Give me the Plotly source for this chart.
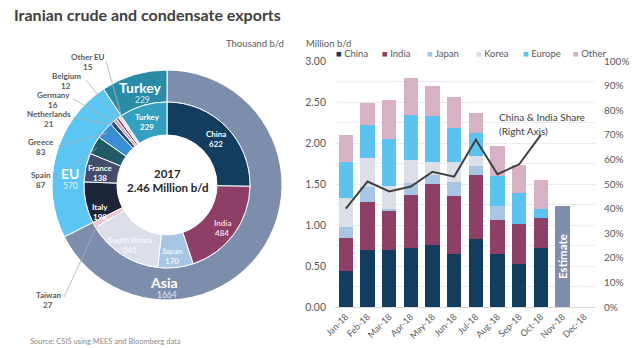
import plotly.graph_objects as go

W, H = 640, 348
FONT = "Lato"

# ---------------- data ----------------
months = ["Jan-18", "Feb-18", "Mar-18", "Apr-18", "May-18", "Jun-18",
          "Jul-18", "Aug-18", "Sep-18", "Oct-18", "Nov-18", "Dec-18"]
china = [0.44, 0.70, 0.70, 0.72, 0.76, 0.65, 0.83, 0.65, 0.52, 0.72, None, None]
india = [0.40, 0.58, 0.48, 0.65, 0.74, 0.70, 0.78, 0.41, 0.49, 0.36, None, None]
japan = [0.14, 0.18, 0.02, 0.14, 0.11, 0.18, 0.11, 0.17, 0.00, 0.00, None, None]
korea = [0.35, 0.36, 0.27, 0.28, 0.16, 0.24, 0.12, 0.00, 0.00, 0.00, None, None]
europe = [0.44, 0.40, 0.58, 0.55, 0.56, 0.41, 0.28, 0.37, 0.38, 0.11, None, None]
other = [0.33, 0.27, 0.47, 0.45, 0.37, 0.38, 0.25, 0.36, 0.34, 0.36, None, None]
estimate_month = ["Nov-18"]
estimate_value = [1.23]
share_months = months[:10]
china_india_share = [0.40, 0.51, 0.47, 0.49, 0.55, 0.53, 0.68, 0.54, 0.58, 0.70]

series_names = ["China", "India", "Japan", "Korea", "Europe", "Other"]
series_values = [china, india, japan, korea, europe, other]
series_colors = ["#123d5e", "#8e3f66", "#a8c5e5", "#dcdfe8", "#5cc3f0", "#d8b1c4"]

inner_labels = ["China", "India", "Japan", "South Korea", "Taiwan", "Italy", "France",
                "Spain", "Greece", "Netherlands", "Germany", "Belgium", "Other EU", "Turkey"]
inner_values = [622, 484, 170, 361, 27, 198, 138, 87, 83, 21, 16, 12, 15, 229]
inner_colors = ["#123d5e", "#8e3f66", "#a8c5e5", "#dcdfe8", "#e9c5d4", "#1c2638", "#444d6b",
                "#1e5b66", "#3a8ed6", "#274a7a", "#c9a3b8", "#7a3a5e", "#dde4ef", "#33a0bf"]
outer_labels = ["Asia", "EU", "Turkey"]
outer_values = [1664, 570, 229]
outer_colors = ["#7d8eac", "#5cc6f3", "#2a8ba6"]


def px(x, y):
    return x / W, 1 - y / H


fig = go.Figure()

# ---------------- donut ----------------
cx, cy, r_out, r_mid, r_hole = 167, 185, 115, 83, 50
fig.add_trace(go.Pie(
    labels=outer_labels, values=outer_values, sort=False, direction="clockwise", rotation=0,
    hole=r_mid / r_out, marker=dict(colors=outer_colors, line=dict(color="white", width=1)),
    textinfo="none", hoverinfo="label+value", showlegend=False,
    domain=dict(x=[(cx - r_out) / W, (cx + r_out) / W],
                y=[1 - (cy + r_out) / H, 1 - (cy - r_out) / H])))
fig.add_trace(go.Pie(
    labels=inner_labels, values=inner_values, sort=False, direction="clockwise", rotation=0,
    hole=r_hole / r_mid, marker=dict(colors=inner_colors, line=dict(color="white", width=1)),
    textinfo="none", hoverinfo="label+value", showlegend=False,
    domain=dict(x=[(cx - r_mid) / W, (cx + r_mid) / W],
                y=[1 - (cy + r_mid) / H, 1 - (cy - r_mid) / H])))

# ---------------- bars ----------------
for name, vals, col in zip(series_names, series_values, series_colors):
    fig.add_trace(go.Bar(x=months, y=vals, name=name, marker=dict(color=col, line=dict(width=0)),
                         showlegend=False))
fig.add_trace(go.Bar(x=estimate_month, y=estimate_value, name="Estimate",
                     marker=dict(color="#7f8fab", line=dict(width=0)),
                     text=["Estimate"], textposition="inside", textangle=-90,
                     insidetextanchor="middle", constraintext="none", cliponaxis=False,
                     textfont=dict(color="white", size=11.5, family=FONT, weight="bold"),
                     showlegend=False))
fig.add_trace(go.Scatter(x=share_months, y=china_india_share, yaxis="y2", mode="lines",
                         line=dict(color="#404040", width=2), showlegend=False))

ann = []


def text(x, y, t, size=10, color="#595959", bold=False, xanchor="center", yanchor="middle"):
    X, Y = px(x, y)
    ann.append(dict(x=X, y=Y, xref="paper", yref="paper", text=t, showarrow=False,
                    xanchor=xanchor, yanchor=yanchor,
                    font=dict(family=FONT, size=size, color=color,
                              weight="bold" if bold else "normal")))


# title & captions
text(12, 14, "Iranian crude and condensate exports", size=16, color="#404040", bold=True,
     xanchor="left")
text(224, 43, "Thousand b/d", size=9.5, xanchor="left")
text(304, 44, "Million b/d", size=9.5, xanchor="left")
text(28, 341, "Source: CSIS using MEES and Bloomberg data", size=7.5, color="#8c8c8c",
     xanchor="left")
text(497, 117, "China &amp; India Share", size=10, color="#404040", xanchor="left")
text(497, 131, "(Right Axis)", size=10, color="#404040", xanchor="left")

# legend
leg_x = [334, 380, 425, 474, 521, 571]
for lx, name, col in zip(leg_x, series_names, series_colors):
    text(lx, 53, f"<span style='color:{col}'>■</span> {name}", size=9.5, xanchor="left")

# donut center
text(cx, 173, "2017", size=11.5, color="#262626", bold=True)
text(cx, 187, "2.46 Million b/d", size=11.5, color="#262626", bold=True)

# outer labels
text(140, 87, "Turkey", size=14, color="white", bold=True)
text(142, 100, str(outer_values[2]), size=8.5, color="#d9eef5")
text(70, 173, "EU", size=14, color="white", bold=True)
text(70, 186, str(outer_values[1]), size=8.5, color="#e0f4fc")
text(164, 282, "Asia", size=14, color="white", bold=True)
text(167, 295, str(outer_values[0]), size=8.5, color="#e3e8f0")

# inner labels (inside slices)
inside_pos = {"China": (216, 134, "white"), "India": (222, 223, "#f3d3e2"),
              "Japan": (172, 251, "#eef4fb"), "South Korea": (130, 240, "#f7f7f9"),
              "Italy": (100, 207, "white"), "France": (100, 168, "white"),
              "Turkey": (147, 117, "white")}
for lab, val in zip(inner_labels, inner_values):
    if lab in inside_pos:
        x, y, c = inside_pos[lab]
        text(x, y, lab, size=8, color=c, bold=True)
        text(x, y + 10, str(val), size=8, color=c, bold=True)

# outside labels with leader lines
outside_pos = {"Other EU": (88, 57, [(106, 61), (122, 118)]),
               "Belgium": (66, 76, [(86, 80), (119, 121)]),
               "Germany": (53, 95, [(73, 99), (117, 123)]),
               "Netherlands": (49, 114, [(73, 118), (114, 125)]),
               "Greece": (41, 142, [(58, 146), (107, 133)]),
               "Spain": (41, 175, [(56, 178), (97, 148)]),
               "Taiwan": (48, 295, [(64, 297), (97, 226)])}
shapes = []
for lab, val in zip(inner_labels, inner_values):
    if lab in outside_pos:
        x, y, pts = outside_pos[lab]
        text(x, y, lab, size=8, color="#595959", bold=True)
        text(x, y + 10, str(val), size=8, color="#595959", bold=True)
        path = "M " + " L ".join(f"{px(a, b)[0]:.5f},{px(a, b)[1]:.5f}" for a, b in pts)
        shapes.append(dict(type="path", path=path, xref="paper", yref="paper",
                           line=dict(color="#b0b0b0", width=0.8)))

fig.update_layout(
    width=W, height=H, autosize=False, margin=dict(l=0, r=0, t=0, b=0),
    paper_bgcolor="white", plot_bgcolor="white", barmode="stack", bargap=0.33,
    font=dict(family=FONT, color="#595959"),
    annotations=ann, shapes=shapes,
    xaxis=dict(domain=[335 / W, 595 / W], type="category", categoryorder="array",
               categoryarray=months, tickangle=-45, tickfont=dict(size=9, color="#595959"),
               showline=True, linecolor="#d9d9d9", linewidth=1, ticks="", automargin=False,
               anchor="y"),
    yaxis=dict(domain=[1 - 307 / H, 1 - 61 / H], range=[0, 3], dtick=0.5, tickformat=".2f",
               tickfont=dict(size=10.5, color="#595959"), showgrid=True, gridcolor="#ececec",
               minor=dict(dtick=0.25, showgrid=True, gridcolor="#ececec"),
               zeroline=False, ticks="", ticklabelstandoff=8, automargin=False),
    yaxis2=dict(overlaying="y", side="right", range=[0, 1], dtick=0.1, tickformat=".0%",
                tickfont=dict(size=10, color="#595959"), showgrid=False, zeroline=False,
                ticks="", ticklabelstandoff=8, automargin=False, anchor="x"),
)

fig.write_html("out.html")
